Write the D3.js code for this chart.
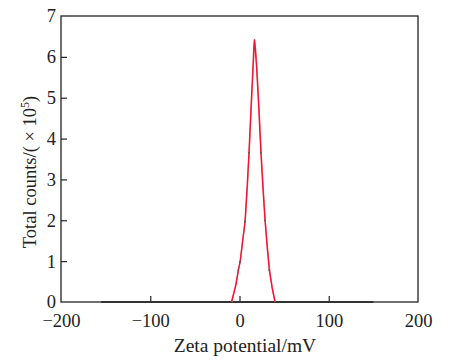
<!DOCTYPE html>
<html><head><meta charset="utf-8">
<script src="https://cdn.jsdelivr.net/npm/d3@7"></script>
<style>body{margin:0;background:#fff}svg{display:block}</style>
</head><body>
<svg id="c" width="451" height="361"></svg>
<script>
const xTicks = [-200, -100, 0, 100, 200];
const yTicks = [0, 1, 2, 3, 4, 5, 6, 7];
const baseX = [-155, 150];
const baseY = [0, 0];
const peakX = [-9, -4, -1.3, 0.6, 3.5, 6.2, 8.5, 10.6, 13, 15, 16.2, 16.8, 17.5, 19, 21, 24, 26.5, 28.6, 31, 33.4, 36.5, 39.8];
const peakY = [0, 0.42, 0.78, 0.98, 1.5, 1.97, 2.8, 3.65, 4.8, 5.7, 6.3, 6.43, 6.25, 5.8, 5.0, 3.65, 2.7, 2.0, 1.35, 0.78, 0.35, 0];
const fitX = [-8.5, -4, -1, 1, 4, 6.5, 9, 11, 13.5, 15.5, 17, 18, 19.5, 21.5, 24.5, 27, 29, 31.5, 34, 37, 40];
const fitY = [0, 0.45, 0.8, 1.0, 1.55, 2.0, 2.85, 3.7, 4.85, 5.8, 6.35, 6.2, 5.75, 4.95, 3.6, 2.65, 1.95, 1.3, 0.75, 0.32, 0];
const dotX = [-1.3, 0.6, 6.2, 10.6, 24, 28.6, 33.4];
const dotY = [0.78, 0.98, 1.97, 3.65, 3.65, 2.0, 0.78];

const svg = d3.select("#c");
const L = 61, R = 418, T = 16, B = 302;
const x = d3.scaleLinear().domain([-200, 200]).range([L, R]);
const y = d3.scaleLinear().domain([0, 7]).range([B, T]);
const font = "'Liberation Serif','Times New Roman',serif";
const ink = "#222";

const xa = svg.append("g").attr("transform", `translate(0,${B})`)
  .call(d3.axisBottom(x).tickValues(xTicks).tickSize(-6).tickPadding(12).tickFormat(d => d < 0 ? "\u2212" + Math.abs(d) : d));
const ya = svg.append("g").attr("transform", `translate(${L},0)`)
  .call(d3.axisLeft(y).tickValues(yTicks).tickSize(-6).tickPadding(5).tickFormat(d3.format("d")));
[xa, ya].forEach(g => {
  g.select(".domain").remove();
  g.selectAll(".tick line").attr("stroke", ink).attr("stroke-width", 1.2);
  g.selectAll(".tick text").attr("font-family", font).attr("font-size", 18.5).attr("fill", ink);
});
ya.selectAll(".tick text").attr("dy", "0.32em");
xa.selectAll(".tick line").filter(d => d === -200 || d === 200).remove();
ya.selectAll(".tick line").filter(d => d === 0 || d === 7).remove();

svg.append("rect").attr("x", L).attr("y", T).attr("width", R - L).attr("height", B - T)
  .attr("fill", "none").attr("stroke", ink).attr("stroke-width", 1.3);

const line = (xs, ys) => d3.line().x((d, i) => x(xs[i])).y((d, i) => y(ys[i]))(xs);

svg.append("path").attr("d", line(baseX, baseY)).attr("fill", "none").attr("stroke", "#333").attr("stroke-width", 2.2);
svg.append("path").attr("d", line(fitX, fitY)).attr("fill", "none").attr("stroke", "#f4846c").attr("stroke-width", 1.3);
svg.append("path").attr("d", line(peakX, peakY)).attr("fill", "none").attr("stroke", "#ee1538").attr("stroke-width", 1.4);
svg.selectAll("circle.d").data(dotX).enter().append("circle")
  .attr("cx", (d) => x(d)).attr("cy", (d, i) => y(dotY[i])).attr("r", 0.9).attr("fill", "#555");

svg.append("text").attr("x", 245).attr("y", 352).attr("text-anchor", "middle")
  .attr("font-family", font).attr("font-size", 19.5).attr("fill", ink).text("Zeta potential/mV");
const yt = svg.append("text").attr("transform", "translate(36,172) rotate(-90)").attr("text-anchor", "middle")
  .attr("font-family", font).attr("font-size", 18.5).attr("fill", ink);
yt.append("tspan").text("Total counts/( \u00d7 10");
yt.append("tspan").attr("dy", -7).attr("font-size", 12).text("5");
yt.append("tspan").attr("dy", 7).text(")");
</script>
</body></html>
